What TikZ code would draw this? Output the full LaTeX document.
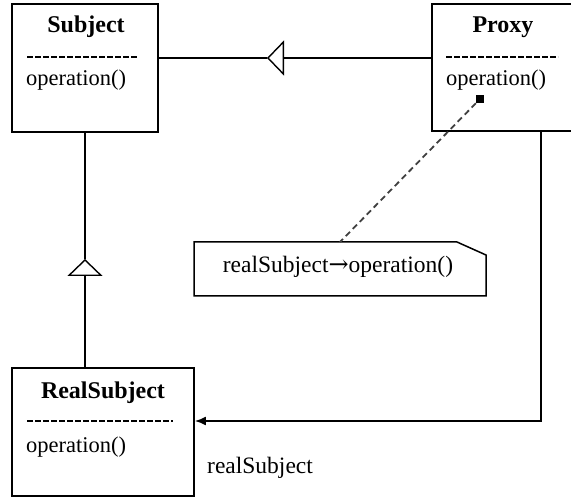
\documentclass[tikz,border=0pt]{standalone}
\usepackage{fontspec}
\setmainfont{Liberation Serif}
\newfontfamily\arrowfont{DejaVu Serif}
\usetikzlibrary{arrows.meta}
\begin{document}
\begin{tikzpicture}[x=1pt,y=-1pt,
  classbox/.style={draw,line width=1.8pt,inner sep=0pt},
  titletext/.style={font=\fontsize{24}{28}\selectfont\bfseries,anchor=base,inner sep=0pt},
  optext/.style={font=\fontsize{22.5}{26}\selectfont,anchor=base west,inner sep=0pt},
  sepline/.style={line width=1.4pt,dash pattern=on 5.5pt off 2.5pt},
  conn/.style={line width=1.6pt},
  gen/.style={conn,-{Triangle[open,length=17pt,width=35pt,line width=1.4pt]}},
  assoc/.style={conn,-{Latex[length=11pt,width=9pt]}},
  notelink/.style={line width=1.8pt,black!75,dash pattern=on 6pt off 4pt}]
\useasboundingbox (0,0) rectangle (571,497);
\fill[white] (0,0) rectangle (571,497);

% class boxes
\node[classbox,minimum width=146pt,minimum height=128pt] (subject) at (85,68) {};
\node[classbox,minimum width=150pt,minimum height=127pt] (proxy) at (507,67.5) {};
\node[classbox,minimum width=182pt,minimum height=128pt] (real) at (103,432) {};

% texts
\node[titletext] (subjectT) at (86,33) {Subject};
\draw[sepline] (27,57) -- (138,57);
\node[optext] (subjectOp) at (26,86) {operation()};

\node[titletext] (proxyT) at (503,33) {Proxy};
\draw[sepline] (446,57) -- (558,57);
\node[optext] (proxyOp) at (446,86) {operation()};

\node[titletext] (realT) at (103,399) {RealSubject};
\draw[sepline] (27,421) -- (173,421);
\node[optext] (realOp) at (26,452) {operation()};

% generalization Proxy -> Subject
\coordinate (g1) at (267,58);
\draw[conn] (subject.east |- g1) -- (g1);
\draw[gen] (proxy.west |- g1) -- (g1);

% generalization RealSubject -> Subject
\coordinate (g2) at (85,259);
\draw[conn] (subject.south) -- (g2);
\draw[gen] (g2 |- real.north) -- (g2);

% association Proxy -> RealSubject
\coordinate (c1) at (541,421);
\draw[assoc] (proxy.south -| c1) -- (c1) -- (c1 -| real.east);
\node[anchor=base west,inner sep=0pt,font=\fontsize{23.5}{26}\selectfont] (roleT) at (207,473) {realSubject};

% note
\draw[line width=1.5pt] (194,242) -- (457,242) -- (486,255) -- (486,296) -- (194,296) -- cycle;
\node[font=\fontsize{23.5}{26}\selectfont,anchor=base,inner sep=0pt] (noteT) at (338,273) {realSubject{\arrowfont\fontsize{24}{26}\selectfont →}operation()};
\node[fill=black,minimum size=8pt,inner sep=0pt] (dot) at (480,99) {};
\coordinate (noteTop) at (340,242);
\draw[notelink] (dot) -- (noteTop);
\end{tikzpicture}
\end{document}
